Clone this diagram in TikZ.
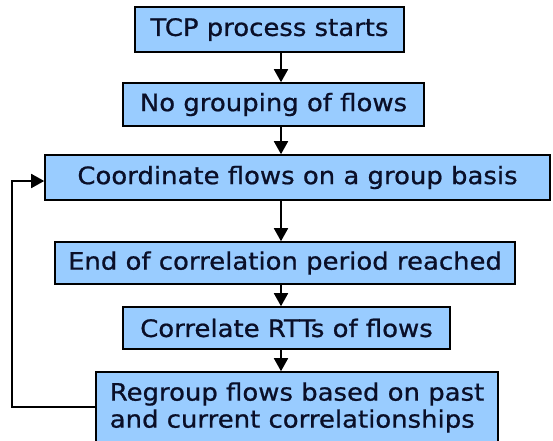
\documentclass[tikz,border=0pt]{standalone}
\usepackage{fontspec}
\setmainfont[FakeStretch=1.08,FakeBold=0.8]{DejaVu Sans}
\usetikzlibrary{arrows.meta}
\definecolor{boxblue}{RGB}{153,204,255}
\definecolor{txt}{RGB}{10,15,40}
\tikzset{
  flowbox/.style={draw=black, line width=1.6pt, fill=boxblue, inner sep=0pt,
    font=\fontsize{24}{27}\selectfont, text=txt},
  flowarrow/.style={line width=1.8pt, -{Triangle[width=14pt,length=13pt]}}
}
\begin{document}
\begin{tikzpicture}[x=1pt,y=-1pt]
\useasboundingbox (0,0) rectangle (553,440);
\node[flowbox, minimum width=269pt, minimum height=45pt] (b1) at (269.5,29.5) {TCP process starts};
\node[flowbox, minimum width=301pt, minimum height=43pt] (b2) at (273.5,104.5) {No grouping of flows};
\node[flowbox, minimum width=505pt, minimum height=45pt] (b3) at (297.5,177.5) {Coordinate flows on a group basis};
\node[flowbox, minimum width=402pt, minimum height=71pt, align=left] (b6) at (297,407.5) {Regroup flows based on past\\and current correlationships};
\node[flowbox, minimum width=460pt, minimum height=42pt] (b4) at (285,263) {End of correlation period reached};
\node[flowbox, minimum width=327pt, minimum height=42pt] (b5) at (286.5,328) {Correlate RTTs of flows};
\coordinate (ax) at (281,0);
\coordinate (lx) at (12,0);
\coordinate (ly) at (0,181);
\coordinate (ry) at (0,407);
\draw[flowarrow] (b1.south -| ax) -- (b2.north -| ax);
\draw[flowarrow] (b2.south -| ax) -- (b3.north -| ax);
\draw[flowarrow] (b3.south -| ax) -- (b4.north -| ax);
\draw[flowarrow] (b4.south -| ax) -- (b5.north -| ax);
\draw[flowarrow] (b5.south -| ax) -- (b6.north -| ax);
\draw[flowarrow] (b6.west |- ry) -- (lx |- ry) -- (lx |- ly) -- (b3.west |- ly);
\end{tikzpicture}
\end{document}
